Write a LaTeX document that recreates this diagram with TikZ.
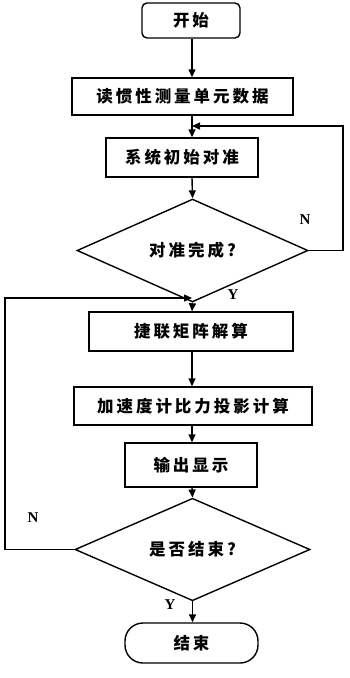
\documentclass[tikz,border=0pt]{standalone}
\usepackage{fontspec}
\setmainfont{Liberation Serif}
\newfontfamily\cjk[LetterSpace=18]{Noto Sans CJK SC}
\usetikzlibrary{shapes.geometric,arrows.meta,calc}
\begin{document}
\begin{tikzpicture}[x=1pt,y=-1pt,
  every node/.style={font=\cjk\bfseries\fontsize{16.5}{18}\selectfont, inner sep=0pt, line width=1.4pt},
  box/.style={draw, rectangle},
  term/.style={draw, rectangle, rounded corners=#1},
  dec/.style={draw, diamond},
  lab/.style={font=\rmfamily\bfseries\fontsize{15}{16}\selectfont},
  arr/.style={line width=1.4pt, -{Triangle[length=8pt,width=7pt]}},
  ln/.style={line width=1.4pt}]
\useasboundingbox (0,0) rectangle (350,678);
\fill[white] (0,0) rectangle (350,678);
\coordinate (spine) at (192,0);
\node[term=5pt, minimum width=98, minimum height=35] (start) at (191,20.5) {开始};
\node[box, minimum width=221, minimum height=37] (read) at (182.5,96.5) {读惯性测量单元数据};
\node[box, minimum width=152, minimum height=39] (init) at (182,157.5) {系统初始对准};
\node[dec, minimum width=231, minimum height=75] (d1) at (192.5,250.5) {对准完成?};
\node[box, minimum width=204, minimum height=39] (calc) at (191,331.5) {捷联矩阵解算};
\node[box, minimum width=238, minimum height=38] (proj) at (193,406) {加速度计比力投影计算};
\node[box, minimum width=132, minimum height=44] (out) at (191,465) {输出显示};
\node[dec, minimum width=235, minimum height=75] (d2) at (192.5,549.5) {是否结束?};
\node[term=18pt, minimum width=133, minimum height=40] (end) at (191.5,643) {结束};
\coordinate (r1) at (343,0);
\coordinate (l1) at (5,0);
\coordinate (j1) at (192,126);
\coordinate (j2) at (192,298);
\draw[arr] (start.south -| spine) -- (read.north -| spine);
\draw[arr] (read.south -| spine) -- (init.north -| spine);
\draw[arr] (init.south -| spine) -- (d1.north);
\draw[arr] (d1.south) -- (calc.north -| spine);
\draw[arr] (calc.south -| spine) -- (proj.north -| spine);
\draw[arr] (proj.south -| spine) -- (out.north -| spine);
\draw[arr] (out.south -| spine) -- (d2.north);
\draw[arr] (d2.south) -- (end.north -| d2.south);
\draw[arr] (d1.east) -- (d1.east -| r1) -- (j1 -| r1) -- (j1);
\draw[arr] (d2.west) -- (d2.west -| l1) -- (j2 -| l1) -- (j2);
\node[lab] (n1) at (305,220) {N};
\node[lab] (y1) at (233,295) {Y};
\node[lab] (n2) at (33,518) {N};
\node[lab] (y2) at (170,605) {Y};
\end{tikzpicture}
\end{document}
